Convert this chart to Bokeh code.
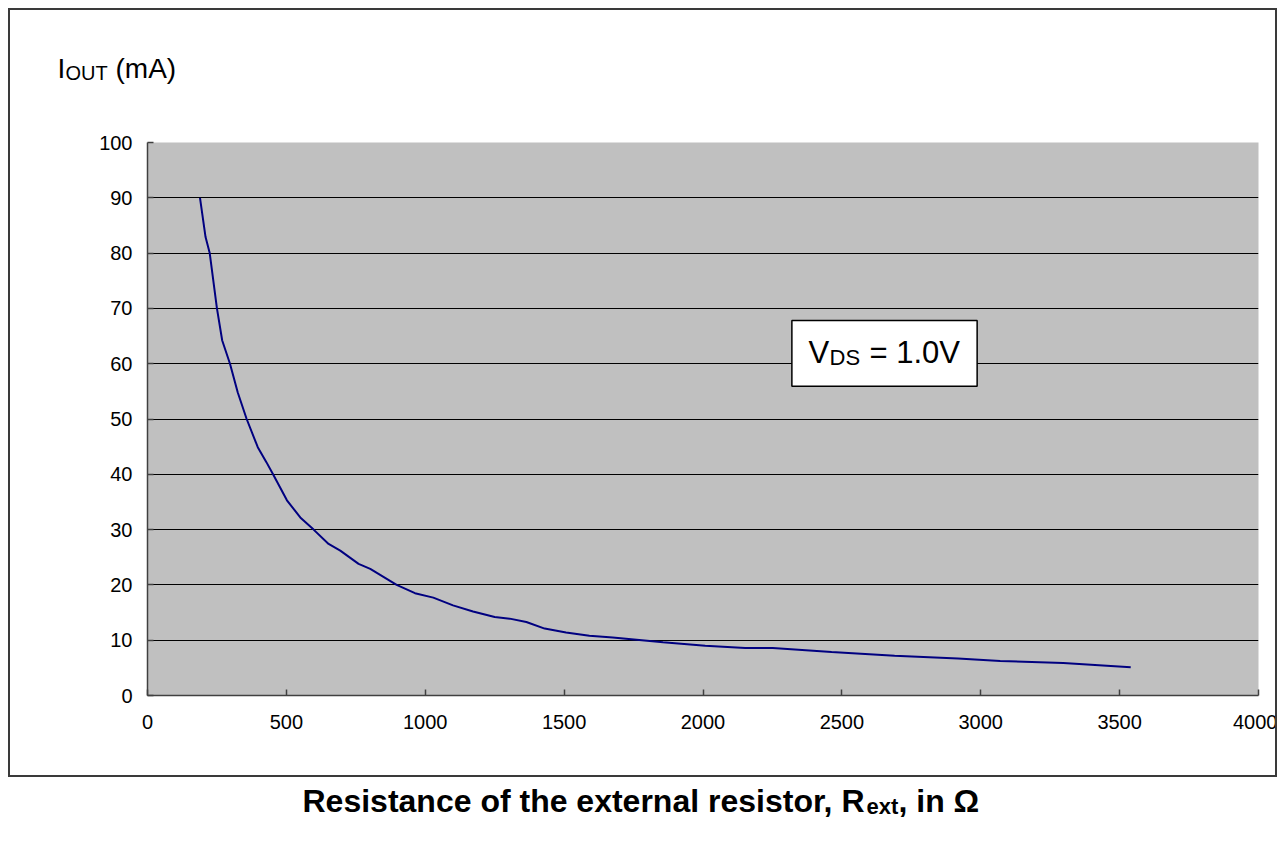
from bokeh.plotting import figure
from bokeh.models import Range1d, SingleIntervalTicker, FixedTicker, Label, BoxAnnotation
from bokeh.embed import file_html
from bokeh.resources import INLINE

# ---- data ----
resistance_ohm = [189, 209, 224, 250, 269, 297, 325, 357, 397, 428, 452, 502, 550, 598,
                  652, 694, 760, 802, 897, 963, 1029, 1100, 1172, 1250, 1304, 1364, 1430,
                  1507, 1591, 1675, 1780, 1856, 2008, 2152, 2251, 2463, 2690, 2918, 3070,
                  3297, 3540]
iout_ma = [90, 82.9, 80, 70, 64.2, 60, 54.8, 50, 44.9, 42.2, 40, 35.3, 32.2, 30,
           27.4, 26.2, 23.8, 22.9, 20, 18.5, 17.7, 16.3, 15.2, 14.2, 13.9, 13.3, 12.1,
           11.4, 10.8, 10.5, 10.0, 9.64, 8.99, 8.57, 8.57, 7.86, 7.2, 6.67, 6.25,
           5.89, 5.1]
grid_values = [10, 20, 30, 40, 50, 60, 70, 80, 90]

FONT = "Liberation Sans"

p = figure(width=1277, height=835, output_backend="svg", toolbar_location=None,
           x_range=Range1d(0, 4000), y_range=Range1d(0, 100),
           min_border_left=147, min_border_right=19, min_border_top=142, min_border_bottom=140)
p.background_fill_color = "#C0C0C0"
p.border_fill_color = "white"
p.outline_line_color = None

# outer chart-area box drawn as a CSS overlay on the figure element
p.stylesheets = [
    ":host { position: relative; }\n"
    ":host::after { content: ''; position: absolute; left: 8px; top: 8px; "
    "width: 1269px; height: 769px; border: 2px solid #3a3a3a; "
    "box-sizing: border-box; pointer-events: none; z-index: 10; }"
]

p.xaxis.ticker = SingleIntervalTicker(interval=500)
p.yaxis.ticker = SingleIntervalTicker(interval=10)
for ax in (p.xaxis[0], p.yaxis[0]):
    ax.axis_line_color = "#404040"
    ax.axis_line_width = 1.5
    ax.major_tick_line_color = "#404040"
    ax.major_tick_line_width = 1.5
    ax.major_tick_in = 6
    ax.major_tick_out = 0
    ax.minor_tick_line_color = None
    ax.major_label_text_font = FONT
    ax.major_label_text_font_size = "20px"
    ax.major_label_text_color = "black"
p.xaxis.major_label_standoff = 15
p.yaxis.major_label_standoff = 11

p.xgrid.grid_line_color = None
p.ygrid.ticker = FixedTicker(ticks=grid_values)
p.ygrid.grid_line_color = "black"
p.ygrid.grid_line_width = 1

p.line(resistance_ohm, iout_ma, line_color="#000080", line_width=2)

# V_DS box
p.add_layout(BoxAnnotation(left=2320, right=2987, top=67.8, bottom=55.9,
                           fill_color="white", fill_alpha=1, line_alpha=1,
                           line_color="black", line_width=1.5, level="annotation"))

DY = -12  # baseline correction


def lab(text, px, py, size, bold=False, place="center"):
    py = py + DY
    kw = dict(text=text, text_font=FONT, text_font_size=f"{size}px",
              text_font_style="bold" if bold else "normal",
              text_color="black", text_align="left", text_baseline="alphabetic")
    if place == "center":
        p.add_layout(Label(x=px - 147, y=695 - py, x_units="screen", y_units="screen", **kw))
    else:
        p.add_layout(Label(x=px, y=py, x_units="canvas", y_units="canvas", **kw), place)

# V_DS = 1.0V
lab("V", 808, 364, 31)
lab("DS", 829, 369, 22)
lab("= 1.0V", 869, 364, 31)

# I_OUT (mA)
lab("I", 57, 80, 28, place="above")
lab("OUT", 65, 84, 20, place="above")
lab("(mA)", 115, 80, 28, place="above")

# x title
lab("Resistance of the external resistor, R", 302, 812, 32, bold=True, place="below")
lab("ext", 866, 818, 22, bold=True, place="above")
lab(", in \u03a9", 898, 812, 32, bold=True, place="below")

open("out.html", "w").write(file_html(p, INLINE))
